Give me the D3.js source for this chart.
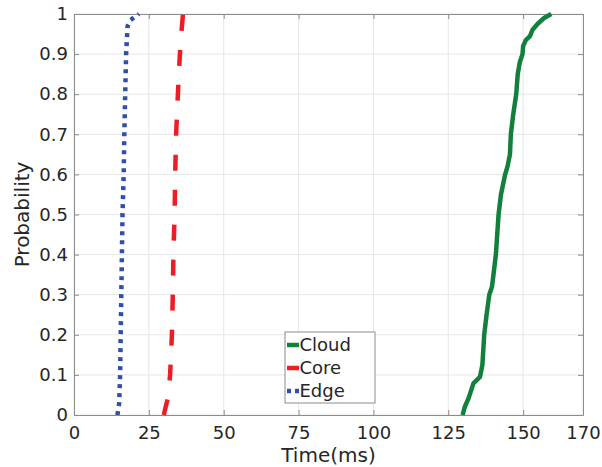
<!DOCTYPE html>
<html>
<head>
<meta charset="utf-8">
<script src="https://cdn.jsdelivr.net/npm/d3@7"></script>
<style>
  body { margin: 0; background: #fff; }
  svg text { font-family: "DejaVu Sans", sans-serif; fill: #262626; }
</style>
</head>
<body>
<svg id="chart" width="602" height="467"></svg>
<script>
// CDF values
var seriesNames = ["Cloud", "Core", "Edge"];

var cloudTime = [129.8, 130.5, 131.8, 133.4, 135.6, 136.4, 137, 137.8, 138.7, 139.6, 140.1, 140.9, 141.8, 142.6, 144, 144.8, 145.6, 145.9, 146.7, 147.7, 148.2, 148.9, 149.8, 150, 150.9, 152.3, 153.1, 154.8, 157, 159.4];
var cloudProb = [0, 0.02, 0.042, 0.079, 0.095, 0.125, 0.2, 0.25, 0.3, 0.32, 0.35, 0.4, 0.5, 0.55, 0.6, 0.62, 0.65, 0.7, 0.75, 0.8, 0.85, 0.88, 0.9, 0.92, 0.935, 0.945, 0.96, 0.975, 0.99, 1];

var coreTime = [30, 30.6, 31.4, 32.1, 32.7, 33, 33.2, 33.6, 33.8, 34.1, 35, 35.6, 36.4];
var coreProb = [0, 0.02, 0.043, 0.1, 0.2, 0.3, 0.4, 0.5, 0.6, 0.7, 0.85, 0.93, 1];

var edgeTime = [14.5, 15.1, 15.4, 15.8, 16.2, 16.6, 16.8, 17.1, 17.4, 17.9, 18.9, 21.7];
var edgeProb = [0, 0.03, 0.1, 0.3, 0.5, 0.6, 0.7, 0.8, 0.9, 0.97, 0.985, 1];

var xTicks = [0, 25, 50, 75, 100, 125, 150, 170];
var yTicks = [0, 0.1, 0.2, 0.3, 0.4, 0.5, 0.6, 0.7, 0.8, 0.9, 1];

(function() {
var svg = d3.select("#chart");
var pLeft = 74, pRight = 583, pTop = 14, pBottom = 415;

var x = d3.scaleLinear().domain([0, 170]).range([pLeft, pRight]);
var y = d3.scaleLinear().domain([0, 1]).range([pBottom, pTop]);

// grid
var grid = svg.append("g").attr("stroke", "#e6e6e6").attr("stroke-width", 1);
grid.selectAll(".gx").data(xTicks).enter().append("line")
  .attr("x1", d => x(d)).attr("x2", d => x(d))
  .attr("y1", pTop).attr("y2", pBottom);
grid.selectAll(".gy").data(yTicks).enter().append("line")
  .attr("x1", pLeft).attr("x2", pRight)
  .attr("y1", d => y(d)).attr("y2", d => y(d));

// axes
var fmtY = d => (d === 0 || d === 1) ? String(d) : d.toFixed(1);

var xAxis = svg.append("g")
  .attr("transform", "translate(0," + pBottom + ")")
  .call(d3.axisBottom(x).tickValues(xTicks).tickSizeInner(-5).tickSizeOuter(0).tickPadding(11.5));
var yAxis = svg.append("g")
  .attr("transform", "translate(" + pLeft + ",0)")
  .call(d3.axisLeft(y).tickValues(yTicks).tickFormat(fmtY).tickSizeInner(-5).tickSizeOuter(0).tickPadding(6));
var xTop = svg.append("g")
  .attr("transform", "translate(0," + pTop + ")")
  .call(d3.axisTop(x).tickValues(xTicks).tickSizeInner(-5).tickSizeOuter(0).tickFormat(""));
var yRight = svg.append("g")
  .attr("transform", "translate(" + pRight + ",0)")
  .call(d3.axisRight(y).tickValues(yTicks).tickSizeInner(-5).tickSizeOuter(0).tickFormat(""));

[xAxis, yAxis, xTop, yRight].forEach(function(a) {
  a.selectAll("path, line").attr("stroke", "#8c8c8c");
  a.selectAll("text").attr("font-size", 18).attr("fill", "#262626")
    .style("font-family", "DejaVu Sans");
});

// axis titles
svg.append("text").attr("x", (pLeft + pRight) / 2).attr("y", 462)
  .attr("text-anchor", "middle").attr("font-size", 20).text("Time(ms)");
svg.append("text").attr("transform", "translate(29," + ((pTop + pBottom) / 2) + ") rotate(-90)")
  .attr("text-anchor", "middle").attr("font-size", 20).text("Probability");

// curves
var line = d3.line().x(d => x(d[0])).y(d => y(d[1]));
var styles = {
  Cloud: { color: "#12803c", dash: null, width: 4.5, t: cloudTime, p: cloudProb },
  Core:  { color: "#ee1d23", dash: "16,19", width: 4.5, t: coreTime, p: coreProb },
  Edge:  { color: "#2f4fa8", dash: "4,5", width: 4.5, t: edgeTime, p: edgeProb }
};
seriesNames.slice().reverse().forEach(function(name) {
  var s = styles[name];
  svg.append("path")
    .datum(d3.zip(s.t, s.p))
    .attr("d", line)
    .attr("fill", "none")
    .attr("stroke", s.color)
    .attr("stroke-width", s.width)
    .attr("stroke-dasharray", s.dash)
    .attr("stroke-linejoin", "round");
});

// legend
var lg = svg.append("g").attr("transform", "translate(285,332)");
lg.append("rect").attr("width", 90).attr("height", 71)
  .attr("fill", "#fff").attr("stroke", "#8c8c8c").attr("stroke-width", 1);
seriesNames.forEach(function(name, i) {
  var s = styles[name];
  var yy = 13 + i * 23;
  lg.append("line").attr("x1", 2).attr("x2", 14).attr("y1", yy).attr("y2", yy)
    .attr("stroke", s.color).attr("stroke-width", 4.5)
    .attr("stroke-dasharray", name === "Edge" ? "4,4" : null);
  lg.append("text").attr("x", 14.5).attr("y", yy).attr("dy", "0.35em")
    .attr("font-size", 18).text(name);
});
})();
</script>
</body>
</html>
